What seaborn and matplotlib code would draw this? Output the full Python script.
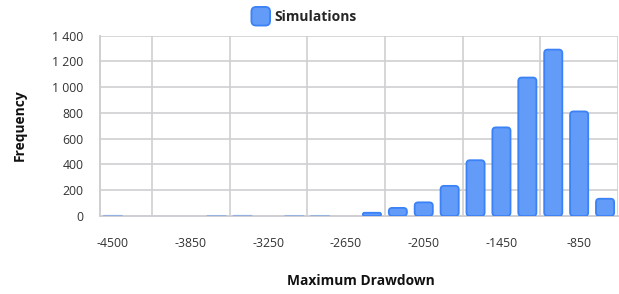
import numpy as np
import pandas as pd
import matplotlib
matplotlib.use("Agg")
import matplotlib.pyplot as plt
import seaborn as sns
from matplotlib.patches import FancyBboxPatch, Patch
from matplotlib.legend_handler import HandlerPatch

# ---- data ----
categories = ["-4500", "-4250", "-4050", "-3850", "-3650", "-3450", "-3250",
              "-3050", "-2850", "-2650", "-2450", "-2250", "-2050", "-1850",
              "-1650", "-1450", "-1250", "-1050", "-850", "-650"]
frequency = [2, 0, 0, 0, 1, 2, 0, 1, 1, 0, 25, 63, 106, 234, 433, 688, 1075, 1292, 812, 134]
shown_labels = ["-4500", "-3850", "-3250", "-2650", "-2050", "-1450", "-850"]
series_name = "Simulations"
y_ticks = [0, 200, 400, 600, 800, 1000, 1200, 1400]

FILL = (0.388, 0.608, 0.973)
EDGE = "#3b82f6"
GRID = "#cfcfd3"

sns.set_theme(style="white")
plt.rcParams["font.family"] = ["Open Sans", "DejaVu Sans"]

W, H = 619, 294
fig = plt.figure(figsize=(W / 100, H / 100), dpi=100)
ax = fig.add_axes([100 / W, 1 - 216 / H, 518 / W, (216 - 35.7) / H])

df = pd.DataFrame({"bin": categories, "freq": frequency})
sns.barplot(data=df, x="bin", y="freq", order=categories, color=FILL,
            width=0.7, ax=ax, zorder=3)

ax.set_xlim(-0.5, len(categories) - 0.5)
ax.set_ylim(0, 1400)

# replace bars by rounded bars
px_x = 518 / len(categories)          # px per category
px_y = (216 - 35.7) / 1400            # px per unit
aspect = (1 / px_y) / (1 / px_x)
for p in list(ax.patches):
    x, y, w, h = p.get_x(), p.get_y(), p.get_width(), p.get_height()
    p.remove()
    if h <= 0:
        continue
    hpx = h * px_y
    r_px = min(3.5, hpx / 2, w * px_x / 2)
    r = r_px / px_x
    alpha = 1.0 if hpx > 2 else 0.35
    fb = FancyBboxPatch((x, y), w, h,
                        boxstyle=f"round,pad=0,rounding_size={r}",
                        mutation_aspect=aspect,
                        facecolor=FILL, edgecolor=EDGE, linewidth=1.3,
                        alpha=alpha, zorder=3)
    ax.add_patch(fb)

# grid
ax.set_yticks(y_ticks)
ax.set_yticklabels([f"{v:,}".replace(",", " ") for v in y_ticks])
ax.yaxis.grid(True, color=GRID, linewidth=1.2, zorder=0)
bounds = np.arange(1.5, len(categories), 3)
for b in bounds:
    ax.axvline(b, color=GRID, linewidth=1.2, zorder=0)

pos = [categories.index(c) for c in shown_labels]
ax.set_xticks(pos)
ax.set_xticklabels(shown_labels)
ax.set_xticks(bounds, minor=True)
ax.tick_params(axis="x", which="major", length=0, pad=15, labelsize=8.8, labelcolor="#333333")
ax.tick_params(axis="x", which="minor", length=7, width=1.2, color=GRID, direction="out")
ax.tick_params(axis="y", length=8, width=1.2, color=GRID, pad=4, labelsize=8.8, labelcolor="#333333")

for s in ["top", "right"]:
    ax.spines[s].set_visible(False)
ax.spines["left"].set_color(GRID)
ax.spines["left"].set_linewidth(1.4)
ax.spines["bottom"].set_color(GRID)
ax.spines["bottom"].set_linewidth(1.4)

ax.set_xlabel("")
ax.set_ylabel("")
fig.text(361 / W, 1 - 281 / H, "Maximum Drawdown", ha="center", va="center",
         fontsize=9.9, fontweight="bold", color="#111111")
fig.text(20 / W, 1 - 125 / H, "Frequency", ha="center", va="center", rotation=90,
         fontsize=9.9, fontweight="bold", color="#111111")


class RoundHandler(HandlerPatch):
    def create_artists(self, legend, orig_handle, xdescent, ydescent,
                       width, height, fontsize, trans):
        s = min(width, height) * 1.5
        p = FancyBboxPatch((-xdescent + (width - s) / 2, -ydescent + (height - s) / 2), s, s,
                           boxstyle=f"round,pad=0,rounding_size={s * 0.25}",
                           facecolor=FILL, edgecolor=EDGE, linewidth=1.3, transform=trans)
        return [p]


h = Patch(facecolor=FILL, edgecolor=EDGE)
leg = fig.legend([h], [series_name], loc="center", bbox_to_anchor=(305 / W, 1 - 17 / H),
                 frameon=False, handler_map={Patch: RoundHandler()},
                 handlelength=1.0, handleheight=1.0, handletextpad=0.45,
                 prop={"weight": "bold", "size": 10})

fig.savefig("out.png", dpi=100)
